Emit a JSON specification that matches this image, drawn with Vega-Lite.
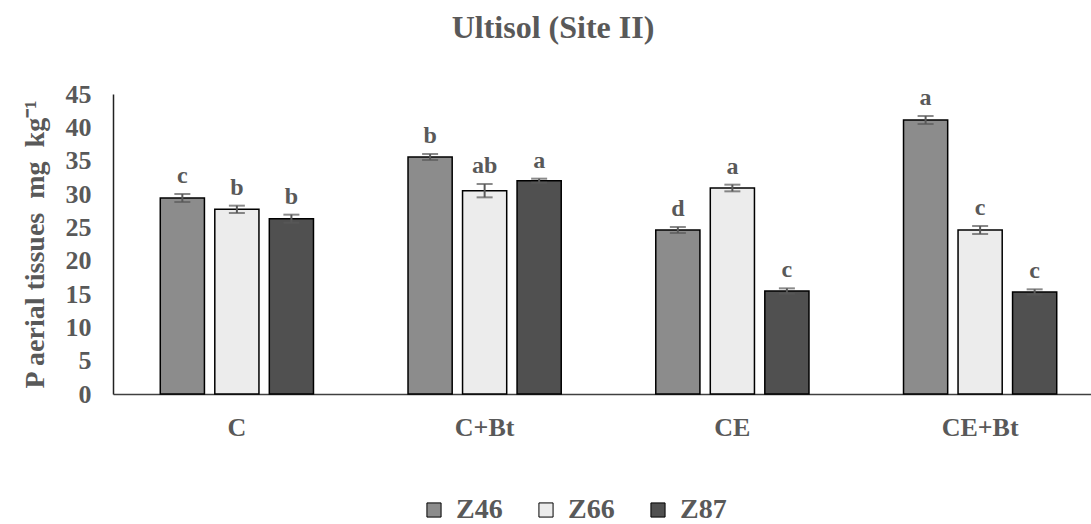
{
  "$schema": "https://vega.github.io/schema/vega-lite/v6.json",
  "autosize": "none",
  "width": 978,
  "height": 300,
  "padding": {"left": 113, "top": 94, "right": 0, "bottom": 130},
  "background": "white",
  "title": {
    "text": "Ultisol (Site II)",
    "font": "Liberation Serif",
    "fontSize": 32,
    "fontWeight": "bold",
    "color": "#595959",
    "anchor": "middle",
    "dx": -49,
    "offset": 36
  },
  "config": {
    "view": {"stroke": null},
    "font": "Liberation Serif",
    "axisY": {
      "values": [0, 5, 10, 15, 20, 25, 30, 35, 40, 45],
      "tickCount": 10,
      "labelOverlap": false,
      "labelBound": false,
      "labelFlush": false,
      "titleFont": "Liberation Serif",
      "titleFontSize": 28,
      "titleFontWeight": "bold",
      "titleColor": "#595959",
      "titlePadding": 16,
      "grid": false,
      "ticks": false,
      "tickSize": 0,
      "domainColor": "#222222",
      "domainWidth": 1.5,
      "labelFont": "Liberation Serif",
      "labelFontSize": 26,
      "labelFontWeight": "bold",
      "labelColor": "#595959",
      "labelPadding": 22
    }
  },
  "data": {
    "values": [
      {"Treatment": "C", "Stage": "Z46", "value": 29.4, "lo": 28.8, "hi": 30.0, "letter": "c"},
      {"Treatment": "C", "Stage": "Z66", "value": 27.7, "lo": 27.15, "hi": 28.25, "letter": "b"},
      {"Treatment": "C", "Stage": "Z87", "value": 26.3, "lo": 25.7, "hi": 26.9, "letter": "b"},
      {"Treatment": "C+Bt", "Stage": "Z46", "value": 35.55, "lo": 35.1, "hi": 36.0, "letter": "b"},
      {"Treatment": "C+Bt", "Stage": "Z66", "value": 30.5, "lo": 29.5, "hi": 31.5, "letter": "ab"},
      {"Treatment": "C+Bt", "Stage": "Z87", "value": 32.0, "lo": 31.7, "hi": 32.3, "letter": "a"},
      {"Treatment": "CE", "Stage": "Z46", "value": 24.6, "lo": 24.15, "hi": 25.05, "letter": "d"},
      {"Treatment": "CE", "Stage": "Z66", "value": 30.9, "lo": 30.4, "hi": 31.4, "letter": "a"},
      {"Treatment": "CE", "Stage": "Z87", "value": 15.45, "lo": 15.05, "hi": 15.85, "letter": "c"},
      {"Treatment": "CE+Bt", "Stage": "Z46", "value": 41.1, "lo": 40.5, "hi": 41.7, "letter": "a"},
      {"Treatment": "CE+Bt", "Stage": "Z66", "value": 24.6, "lo": 24.0, "hi": 25.2, "letter": "c"},
      {"Treatment": "CE+Bt", "Stage": "Z87", "value": 15.3, "lo": 14.9, "hi": 15.7, "letter": "c"}
    ]
  },
  "encoding": {
    "x": {
      "field": "Treatment",
      "type": "nominal",
      "sort": ["C", "C+Bt", "CE", "CE+Bt"],
      "scale": {"range": [0, 991], "paddingInner": 0, "paddingOuter": 0},
      "axis": {
        "title": null,
        "labelAngle": 0,
        "ticks": false,
        "tickSize": 0,
        "domainColor": "#404040",
        "domainWidth": 1.5,
        "labelFont": "Liberation Serif",
        "labelFontSize": 26,
        "labelFontWeight": "bold",
        "labelColor": "#595959",
        "labelPadding": 20
      }
    },
    "xOffset": {
      "field": "Stage",
      "type": "nominal",
      "sort": ["Z46", "Z66", "Z87"],
      "scale": {"paddingInner": 0.19, "paddingOuter": 0.867}
    }
  },
  "layer": [
    {
      "mark": {"type": "bar", "stroke": "black", "strokeWidth": 1.5},
      "encoding": {
        "y": {
          "field": "value",
          "type": "quantitative",
          "scale": {"domain": [0, 45], "nice": false},
          "axis": {"title": "P aerial tissues\u00a0\u00a0mg\u00a0\u00a0kg\u207b\u00b9", "values": [0, 5, 10, 15, 20, 25, 30, 35, 40, 45], "labelOverlap": false}
        },
        "color": {
          "field": "Stage",
          "type": "nominal",
          "sort": ["Z46", "Z66", "Z87"],
          "scale": {"domain": ["Z46", "Z66", "Z87"], "range": ["#8c8c8c", "#ececec", "#505050"]},
          "legend": {
            "title": null,
            "orient": "none",
            "direction": "horizontal",
            "legendX": 307,
            "legendY": 402,
            "symbolType": "square",
            "symbolSize": 200,
            "symbolStrokeColor": "black",
            "symbolStrokeWidth": 1,
            "labelFont": "Liberation Serif",
            "labelFontSize": 28,
            "labelFontWeight": "bold",
            "labelColor": "#595959",
            "labelOffset": 8,
            "columnPadding": 29
          }
        }
      }
    },
    {
      "mark": {"type": "rule", "color": "#595959", "strokeWidth": 2},
      "encoding": {
        "y": {"field": "lo", "type": "quantitative", "axis": {"title": "P aerial tissues\u00a0\u00a0mg\u00a0\u00a0kg\u207b\u00b9", "values": [0, 5, 10, 15, 20, 25, 30, 35, 40, 45], "labelOverlap": false}},
        "y2": {"field": "hi"}
      }
    },
    {
      "mark": {"type": "tick", "color": "#595959", "thickness": 2, "size": 16, "orient": "horizontal"},
      "encoding": {"y": {"field": "lo", "type": "quantitative", "axis": {"title": "P aerial tissues\u00a0\u00a0mg\u00a0\u00a0kg\u207b\u00b9", "values": [0, 5, 10, 15, 20, 25, 30, 35, 40, 45], "labelOverlap": false}}}
    },
    {
      "mark": {"type": "tick", "color": "#595959", "thickness": 2, "size": 16, "orient": "horizontal"},
      "encoding": {"y": {"field": "hi", "type": "quantitative", "axis": {"title": "P aerial tissues\u00a0\u00a0mg\u00a0\u00a0kg\u207b\u00b9", "values": [0, 5, 10, 15, 20, 25, 30, 35, 40, 45], "labelOverlap": false}}}
    },
    {
      "mark": {"type": "text", "font": "Liberation Serif", "fontSize": 24, "fontWeight": "bold", "color": "#595959", "baseline": "alphabetic", "dy": -11},
      "encoding": {
        "y": {"field": "hi", "type": "quantitative", "axis": {"title": "P aerial tissues\u00a0\u00a0mg\u00a0\u00a0kg\u207b\u00b9", "values": [0, 5, 10, 15, 20, 25, 30, 35, 40, 45], "labelOverlap": false}},
        "text": {"field": "letter"}
      }
    }
  ]
}
